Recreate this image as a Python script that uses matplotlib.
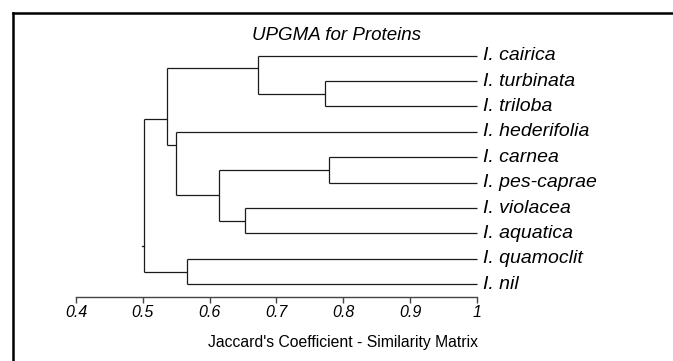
import matplotlib
matplotlib.use('Agg')
import matplotlib.pyplot as plt
from matplotlib.lines import Line2D

plt.rcParams['font.family'] = ['Liberation Sans', 'DejaVu Sans']

# leaves, top to bottom
leaves = ['I. cairica', 'I. turbinata', 'I. triloba', 'I. hederifolia', 'I. carnea',
          'I. pes-caprae', 'I. violacea', 'I. aquatica', 'I. quamoclit', 'I. nil']

# merges: (child a, child b, similarity); new cluster ids start at len(leaves)
merge_a = [4, 1, 0, 6, 10, 8, 3, 12, 17]
merge_b = [5, 2, 11, 7, 13, 9, 14, 16, 15]
merge_sim = [0.778, 0.773, 0.673, 0.653, 0.614, 0.566, 0.550, 0.536, 0.502]

ticks = [0.4, 0.5, 0.6, 0.7, 0.8, 0.9, 1.0]
tick_labels = ['0.4', '0.5', '0.6', '0.7', '0.8', '0.9', '1']

W, H = 673, 361
fig = plt.figure(figsize=(W / 100, H / 100), dpi=100)
# axes: x 0.4 -> px 76, 1.0 -> px 477 ; y leaf 0 -> px 55.7, 9.5 -> px 297
ax = fig.add_axes([76 / W, 1 - 297 / H, 401 / W, (297 - 55.7) / H])
ax.set_xlim(0.4, 1.0)
ax.set_ylim(9.5, 0)

lc = '#1a1a1a'
lw = 0.9

# per cluster: x (similarity), y attach, first leaf, last leaf
cx = {}
cy = {}
first = {}
last = {}
for i in range(len(leaves)):
    cx[i] = 1.0
    cy[i] = i
    first[i] = i
    last[i] = i

for k in range(len(merge_sim)):
    a = merge_a[k]
    b = merge_b[k]
    s = merge_sim[k]
    nid = len(leaves) + k
    ny = (last[a] + first[b]) / 2
    # vertical
    ax.plot([s, s], [cy[a], cy[b]], color=lc, lw=lw, clip_on=False, solid_capstyle='butt')
    # horizontals to children
    ax.plot([s, cx[a]], [cy[a], cy[a]], color=lc, lw=lw, clip_on=False, solid_capstyle='butt')
    ax.plot([s, cx[b]], [cy[b], cy[b]], color=lc, lw=lw, clip_on=False, solid_capstyle='butt')
    cx[nid] = s
    cy[nid] = ny
    first[nid] = first[a]
    last[nid] = last[b]

# little root stub
root = len(leaves) + len(merge_sim) - 1
ax.plot([cx[root] - 0.003, cx[root]], [cy[root], cy[root]], color=lc, lw=lw, clip_on=False)

for i, name in enumerate(leaves):
    ax.text(1.009, i, name, ha='left', va='center', style='italic', fontsize=14, color='black')

for sp in ['top', 'right', 'left']:
    ax.spines[sp].set_visible(False)
ax.spines['bottom'].set_color('#444444')
ax.spines['bottom'].set_linewidth(1.0)
ax.set_yticks([])
ax.set_xticks(ticks)
ax.set_xticklabels(tick_labels, fontstyle='italic', fontsize=11.5)
ax.tick_params(axis='x', direction='out', length=4, width=1.0, color='#444444', pad=2)
ax.patch.set_visible(False)

fig.text(336 / W, 1 - 36 / H, 'UPGMA for Proteins', ha='center', va='center',
         style='italic', fontsize=13.5)
fig.text(343 / W, 1 - 342 / H, "Jaccard's Coefficient - Similarity Matrix", ha='center',
         va='center', fontsize=11.3)

# frame (top and left only)
fig.add_artist(Line2D([13 / W, 1.0], [1 - 13 / H, 1 - 13 / H], color='black', lw=1.8))
fig.add_artist(Line2D([13 / W, 13 / W], [1 - 13 / H, 0], color='black', lw=1.8))

fig.savefig('out.png', dpi=100)
